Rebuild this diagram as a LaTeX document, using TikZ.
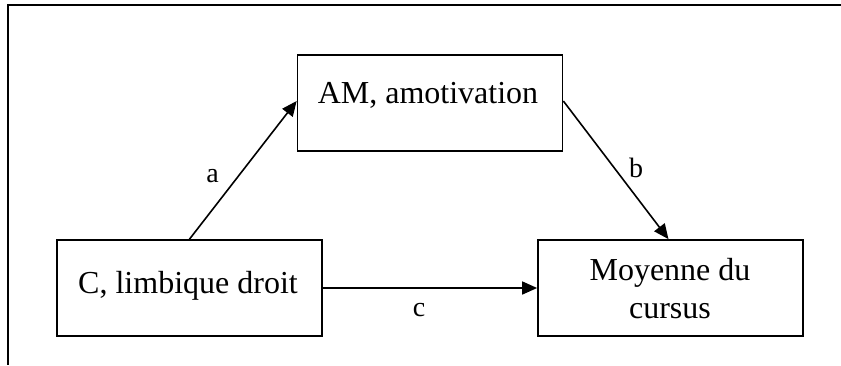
\documentclass[tikz,border=0pt]{standalone}
\usepackage{fontspec}
\setmainfont{Liberation Serif}
\usetikzlibrary{arrows.meta}
\begin{document}
\begin{tikzpicture}[x=1pt,y=-1pt,
  boxnode/.style={draw,line width=1.7pt,inner sep=0pt,minimum width=265pt,minimum height=96pt},
  maintext/.style={inner sep=0pt,anchor=base,font=\fontsize{32}{38}\selectfont},
  labeltext/.style={inner sep=0pt,anchor=base,font=\fontsize{28}{32}\selectfont},
  conn/.style={line width=1.6pt,-{Triangle[length=15pt,width=13pt]}}]
\useasboundingbox (0,0) rectangle (841,365);
% frame
\coordinate (ftl) at (8,5);
\coordinate (ftr) at (841,5);
\coordinate (fbl) at (8,365);
\draw[line width=2.4pt] ([xshift=-1pt]ftl) -- (ftr);
\draw[line width=1.8pt] (ftl) -- (fbl);
% boxes
\node[boxnode] (cbox) at (189.5,288) {};
\node[boxnode] (ambox) at (430,103) {};
\node[boxnode] (mbox) at (670.5,288) {};
% texts
\node[maintext] (ctext) at (188,293) {C, limbique droit};
\node[maintext] (amtext) at (428,103) {AM, amotivation};
\node[maintext] (mtext1) at (670,280) {Moyenne du};
\node[maintext] (mtext2) at (670,318) {cursus};
% connectors
\draw[conn] (cbox.north) -- ([yshift=2pt]ambox.west);
\draw[conn] ([yshift=2pt]ambox.east) -- ([xshift=-2pt]mbox.north);
\draw[conn] (cbox.east) -- (mbox.west);
% labels
\node[labeltext] (la) at (212.5,182) {a};
\node[labeltext] (lb) at (636,177) {b};
\node[labeltext] (lc) at (419,316) {c};
\end{tikzpicture}
\end{document}
